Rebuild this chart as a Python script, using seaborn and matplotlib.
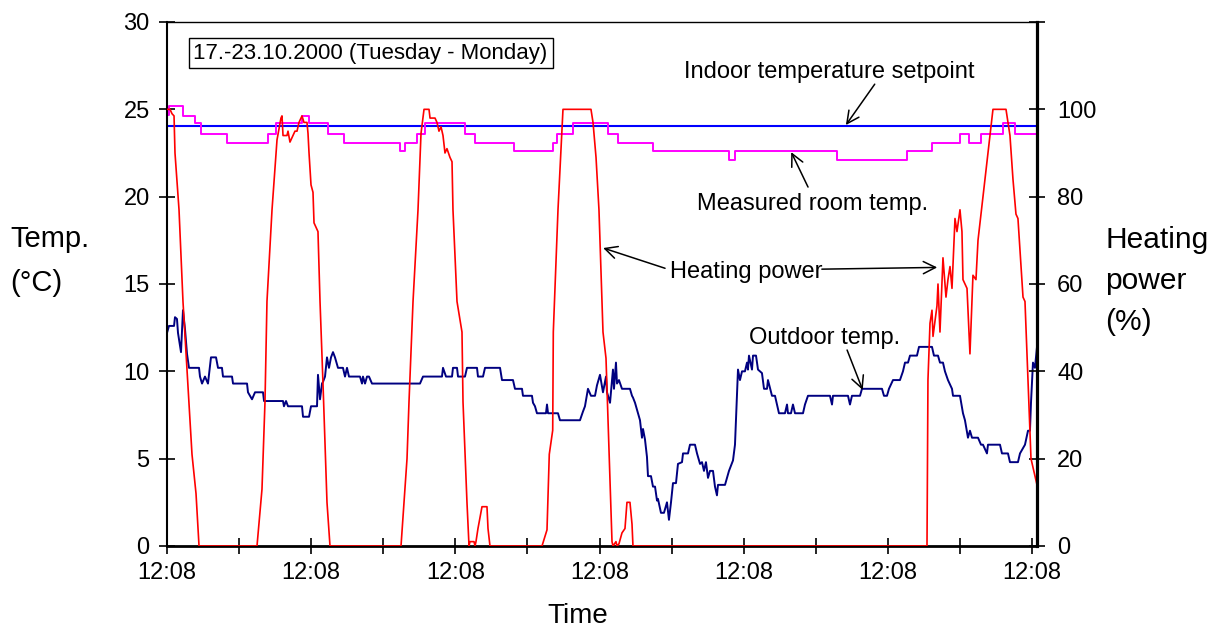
import matplotlib
matplotlib.use("Agg")
import matplotlib.pyplot as plt
import seaborn as sns

# Time axis: hours since Tuesday 17.10.2000, 12:08
outdoor_hours = [0.0, 0.33, 1.17, 1.33, 1.66, 1.83, 2.33, 2.66, 3.0, 3.33, 3.66, 5.33, 5.49, 5.83,
                 6.32, 6.82, 7.32, 8.16, 8.49, 9.15, 9.32, 10.82, 10.99, 13.32, 13.48, 14.15, 14.65,
                 15.98, 16.15, 19.31, 19.47, 19.81, 20.14, 22.47, 22.64, 23.64, 23.97, 24.97, 25.13,
                 25.47, 25.80, 25.97, 26.30, 26.63, 26.96, 27.30, 27.63, 27.96, 28.46, 29.29, 29.63,
                 29.96, 30.29, 32.12, 32.46, 32.62, 32.96, 33.29, 33.62, 34.12, 42.11, 42.61, 45.77,
                 45.94, 46.44, 47.44, 47.60, 48.27, 48.44, 49.60, 49.93, 51.60, 51.76, 52.60, 52.93,
                 55.43, 55.76, 57.59, 57.92, 59.09, 59.25, 60.75, 60.92, 61.25, 61.58, 63.08, 63.25,
                 63.42, 65.08, 65.41, 68.74, 69.24, 69.57, 70.07, 70.57, 71.24, 71.57, 72.07, 72.57,
                 73.07, 73.24, 73.74, 74.23, 74.40, 74.73, 74.90, 75.23, 75.73, 77.06, 77.40, 77.56,
                 77.90, 78.23, 78.73, 79.06, 79.23, 79.56, 79.89, 80.06, 80.56, 80.89, 81.23, 81.56,
                 81.72, 82.22, 82.72, 83.22, 83.55, 83.89, 84.22, 84.72, 85.05, 85.72, 85.89, 86.72,
                 87.05, 87.88, 88.22, 88.72, 89.05, 89.38, 89.71, 90.05, 90.38, 90.88, 91.21, 91.54,
                 91.71, 92.88, 93.21, 93.54, 94.21, 94.54, 95.04, 95.37, 95.71, 96.20, 96.54, 96.70,
                 96.87, 97.37, 97.54, 98.04, 98.37, 99.03, 99.37, 99.87, 100.03, 100.70, 101.20,
                 101.53, 101.86, 102.86, 103.20, 103.36, 103.86, 104.19, 104.53, 105.86, 106.19,
                 106.69, 110.35, 110.69, 110.85, 113.35, 113.68, 114.01, 115.35, 115.68, 119.01,
                 119.34, 119.84, 120.17, 120.84, 122.00, 122.50, 122.84, 123.34, 123.67, 124.83,
                 125.17, 127.33, 127.66, 128.33, 128.66, 129.16, 129.49, 129.99, 130.66, 130.83,
                 131.99, 132.49, 132.82, 133.32, 133.65, 133.99, 134.99, 135.49, 135.82, 136.48,
                 136.65, 138.65, 138.98, 139.98, 140.31, 141.64, 141.98, 142.81, 143.31, 143.64,
                 143.81, 144.14, 144.47, 144.81]
outdoor_temp = [12.2, 12.6, 12.6, 13.1, 13.0, 12.2, 11.1, 13.5, 12.4, 11.0, 10.2, 10.2, 9.7, 9.3,
                9.7, 9.3, 10.8, 10.8, 10.2, 10.2, 9.7, 9.7, 9.3, 9.3, 8.8, 8.4, 8.8,
                8.8, 8.3, 8.3, 8.0, 8.3, 8.0, 8.0, 7.4, 7.4, 8.0, 8.0, 9.8,
                8.4, 9.3, 9.4, 9.7, 10.8, 10.2, 10.8, 11.1, 10.8, 10.2, 10.2, 9.7,
                10.2, 9.7, 9.7, 9.3, 9.7, 9.3, 9.7, 9.7, 9.3, 9.3, 9.7, 9.7,
                10.2, 9.7, 9.7, 10.2, 10.2, 9.7, 9.7, 10.2, 10.2, 9.7, 9.7, 10.2,
                10.2, 9.5, 9.5, 9.0, 9.0, 8.6, 8.6, 8.2, 8.0, 7.6, 7.6, 8.1,
                7.6, 7.6, 7.2, 7.2, 7.7, 8.0, 9.0, 8.6, 8.6, 9.2, 9.8, 8.8,
                9.7, 8.8, 8.2, 10.1, 9.0, 10.5, 9.3, 9.5, 9.0, 9.0, 8.6, 8.5,
                8.2, 7.8, 7.2, 6.2, 6.7, 6.1, 5.1, 4.0, 4.0, 3.4, 3.4, 2.6,
                2.7, 1.9, 1.9, 2.5, 1.5, 2.5, 3.6, 3.6, 4.7, 4.8, 5.3, 5.3,
                5.8, 5.8, 5.3, 4.7, 4.8, 4.3, 4.8, 3.9, 4.3, 4.3, 3.4, 2.9,
                3.5, 3.5, 3.9, 4.3, 4.9, 5.8, 10.1, 9.5, 10.0, 10.0, 10.5, 10.1,
                10.9, 10.1, 10.9, 10.9, 10.1, 9.9, 9.0, 9.0, 9.5, 8.6, 8.6,
                8.1, 7.6, 7.6, 8.1, 7.6, 7.6, 8.1, 7.6, 7.6, 8.1,
                8.6, 8.6, 8.1, 8.6, 8.6, 8.1, 8.6, 8.6, 9.0, 9.0,
                8.6, 8.6, 9.0, 9.5, 9.5, 10.0, 10.5, 10.5, 10.9, 10.9,
                11.4, 11.4, 10.9, 10.9, 10.5, 10.5, 10.0, 9.5, 9.0, 8.6,
                8.6, 7.6, 7.2, 6.2, 6.6, 6.2, 6.2, 5.8, 5.8, 5.3,
                5.8, 5.8, 5.3, 5.3, 4.8, 4.8, 5.3, 5.8, 6.6, 6.6,
                8.2, 10.5, 10.2, 11.4]

room_hours = [0.0, 0.25, 2.66, 4.66, 5.66, 9.99, 16.81, 18.14, 22.47, 23.64, 26.80, 29.46, 38.78,
              39.61, 41.61, 42.94, 49.60, 51.27, 57.76, 64.25, 64.91, 67.58, 73.40, 75.07, 80.89,
              93.54, 94.54, 111.52, 123.17, 127.33, 131.99, 133.49, 135.49, 139.15, 141.15, 144.81]
room_temp = [24.7, 25.2, 24.6, 24.2, 23.6, 23.1, 23.6, 24.2, 24.6, 24.2, 23.6, 23.1, 22.6,
             23.1, 23.6, 24.2, 23.6, 23.1, 22.6, 23.1, 23.6, 24.2, 23.6, 23.1, 22.6,
             22.1, 22.6, 22.1, 22.6, 23.1, 23.6, 23.1, 23.6, 24.2, 23.6, 23.6]

setpoint_hours = [0.0, 144.81]
setpoint_temp = [24.05, 24.05]

heat_hours = [0.0, 0.50, 0.83, 1.17, 1.33, 2.00, 2.66, 4.16, 4.83, 5.33, 14.98, 15.81, 16.31, 16.64,
              17.48, 18.31, 18.97, 19.14, 19.31, 19.97, 20.14, 20.47, 20.97, 21.30, 21.64, 21.97,
              22.47, 22.80, 23.30, 23.47, 23.64, 23.97, 24.30, 24.47, 25.13, 25.47, 25.97, 26.63,
              27.13, 38.95, 39.95, 40.28, 40.95, 41.78, 42.28, 42.78, 43.61, 43.78, 44.61, 44.94,
              45.27, 45.61, 45.94, 46.27, 46.60, 47.10, 47.44, 47.60, 48.27, 49.10, 49.27, 49.93,
              50.27, 50.43, 51.10, 51.27, 51.43, 51.76, 52.43, 53.26, 53.43, 53.76, 62.42, 63.25,
              63.63, 64.20, 64.30, 65.08, 65.91, 70.57, 70.91, 71.41, 71.90, 72.57, 73.07, 73.74,
              74.07, 74.23, 74.73, 74.90, 75.23, 75.73, 76.23, 76.56, 77.06, 77.40, 77.56, 126.50,
              126.66, 127.00, 127.33, 127.50, 128.16, 128.33, 128.66, 129.16, 129.66, 129.99,
              130.33, 130.66, 131.16, 131.49, 131.99, 132.32, 132.49, 133.16, 133.65, 134.15,
              134.65, 134.99, 136.15, 137.48, 139.65, 140.31, 140.81, 141.31, 141.64, 142.48,
              142.81, 143.81, 144.81]
heat_power = [100, 100, 99, 98.5, 90, 77, 56, 21, 12, 0, 0, 13, 33, 56,
              77, 93, 98, 98.5, 94, 94, 95, 92.5, 94, 95, 95, 97,
              98.5, 97, 97, 94.5, 90, 82.7, 81, 74, 72, 56, 37, 10,
              0, 0, 20, 33, 56, 77, 94.5, 100, 100, 98, 98, 97,
              95, 96, 94, 90, 91, 89, 88, 77, 56, 49, 33, 10,
              0, 1, 1, 0, 1, 4, 9, 9, 4, 0, 0, 3.7,
              21, 26.5, 49, 77, 100, 100, 97, 89, 77, 49, 43, 15,
              1, 0, 1, 0, 0.5, 3, 4, 10, 10, 5, 0, 0,
              38, 51, 54, 48, 55, 60, 49, 66, 57, 61,
              64, 59, 75, 72, 77, 72, 61, 59, 44, 62,
              61, 70, 84, 100, 100, 94, 84, 76, 75, 57,
              56, 20, 14]

day_ticks = [0, 24, 48, 72, 96, 120, 144]
half_day_ticks = [12, 36, 60, 84, 108, 132]
day_tick_labels = ["12:08"] * 7
temp_ticks = [0, 5, 10, 15, 20, 25, 30]
power_ticks = [0, 20, 40, 60, 80, 100, 120]
power_tick_labels = ["0", "20", "40", "60", "80", "100", ""]

sns.set_theme(style="white")
plt.rcParams["font.family"] = ["Liberation Sans", "DejaVu Sans"]
plt.rcParams.update({"text.color": "black", "axes.labelcolor": "black",
                     "xtick.color": "black", "ytick.color": "black"})

fig = plt.figure(figsize=(12.21, 6.35), dpi=100)
ax = fig.add_axes([167 / 1221, 1 - 546 / 635, 870 / 1221, 524 / 635])
ax2 = ax.twinx()

sns.lineplot(x=outdoor_hours, y=outdoor_temp, ax=ax, color="#000080", lw=1.4,
             estimator=None, sort=False)
sns.lineplot(x=setpoint_hours, y=setpoint_temp, ax=ax, color="#0000ff", lw=1.5,
             estimator=None, sort=False)
sns.lineplot(x=room_hours, y=room_temp, ax=ax, color="#ff00ff", lw=1.4,
             estimator=None, sort=False, drawstyle="steps-post")
sns.lineplot(x=heat_hours, y=heat_power, ax=ax2, color="#ff0000", lw=1.2,
             estimator=None, sort=False)

ax.set_xlim(0, 144.81)
ax.set_ylim(0, 30)
ax2.set_ylim(0, 120)

ax.set_xticks(day_ticks)
ax.set_xticklabels(day_tick_labels)
ax.set_xticks(half_day_ticks, minor=True)
ax.set_yticks(temp_ticks)
ax2.set_yticks(power_ticks)
ax2.set_yticklabels(power_tick_labels)

ax.tick_params(axis="x", which="both", direction="inout", length=11, width=1.2,
               colors="black", labelsize=17, pad=6, bottom=True)
ax.tick_params(axis="y", direction="inout", length=11, width=1.2, colors="black",
               labelsize=17, pad=7, left=True)
ax2.tick_params(axis="y", direction="inout", length=11, width=1.2, colors="black",
                labelsize=17, pad=9, right=True)
ax.set_xlabel("")
ax.set_ylabel("")
ax2.set_ylabel("")

for side in ["left", "bottom", "top", "right"]:
    ax.spines[side].set_color("black")
    ax2.spines[side].set_color("black")
ax.spines["right"].set_visible(False)
ax.spines["left"].set_linewidth(1.5)
ax.spines["bottom"].set_linewidth(2.0)
ax.spines["top"].set_linewidth(1.0)
for side in ["left", "bottom", "top"]:
    ax2.spines[side].set_visible(False)
ax2.spines["right"].set_linewidth(2.3)

# Axis titles
fig.text(10 / 1221, 1 - 261 / 635, "Temp.\n(°C)", fontsize=21, ha="left", va="center",
         linespacing=1.75)
fig.text(1105 / 1221, 1 - 281 / 635, "Heating\npower\n(%)", fontsize=21.5, ha="left",
         va="center", linespacing=1.6)
fig.text(578 / 1221, 1 - 616 / 635, "Time", fontsize=20, ha="center", va="center")

# Date range box
ax.text(4.4, 28.22, "17.-23.10.2000 (Tuesday - Monday)", fontsize=16, ha="left",
        va="center", bbox=dict(boxstyle="square,pad=0.22", fc="white", ec="black", lw=1))

# Series labels and arrows
arrow = dict(arrowstyle="->", color="black", lw=1.1, mutation_scale=22, shrinkA=0, shrinkB=0)
T = ax.transData
ax2.text(110.2, 27.13, "Indoor temperature setpoint", transform=T, fontsize=17,
         ha="center", va="center")
ax2.annotate("", xy=(113.0, 24.10), xycoords=T, xytext=(117.8, 26.44), textcoords=T,
             arrowprops=arrow)
ax2.text(107.4, 19.58, "Measured room temp.", transform=T, fontsize=17,
         ha="center", va="center")
ax2.annotate("", xy=(103.9, 22.55), xycoords=T, xytext=(106.7, 20.55), textcoords=T,
             arrowprops=arrow)
ax2.text(96.4, 15.68, "Heating power", transform=T, fontsize=17, ha="center", va="center")
ax2.annotate("", xy=(72.6, 17.06), xycoords=T, xytext=(82.9, 15.9), textcoords=T,
             arrowprops=arrow)
ax2.annotate("", xy=(128.2, 15.95), xycoords=T, xytext=(109.0, 15.85), textcoords=T,
             arrowprops=arrow)
ax2.text(109.4, 11.9, "Outdoor temp.", transform=T, fontsize=17, ha="center", va="center")
ax2.annotate("", xy=(115.8, 8.93), xycoords=T, xytext=(113.2, 11.22), textcoords=T,
             arrowprops=arrow)

fig.savefig("out.png", dpi=100)
